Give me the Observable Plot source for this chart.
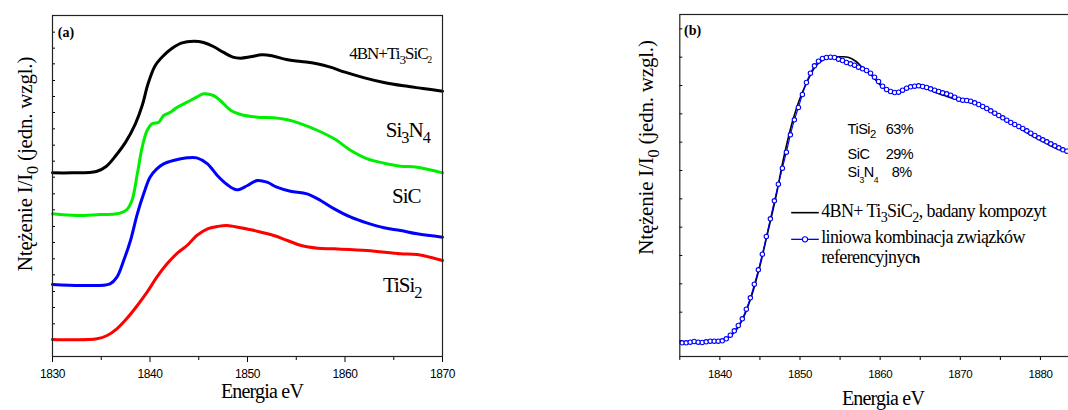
<!DOCTYPE html>
<html><head><meta charset="utf-8">
<script src="https://cdn.jsdelivr.net/npm/d3@7"></script>
<script src="https://cdn.jsdelivr.net/npm/@observablehq/plot@0.6"></script>
<style>
html,body{margin:0;padding:0;background:#fff;overflow:hidden;}
#wrap{position:relative;width:1068px;height:410px;overflow:hidden;background:#fff;}
#a{position:absolute;left:0;top:0;width:460px;height:410px;}
#b{position:absolute;left:600px;top:0;width:500px;height:410px;}
#wrap svg{max-width:none !important;height:410px !important;display:block;}
</style></head><body><div id="wrap"><div id="a"></div><div id="b"></div></div>
<script>
// ---------- Panel (a): reference spectra (energy eV, intensity arb. units) ----------
const compositeA = [[1830,5.51],[1832,5.51],[1834.5,5.55],[1835.5,5.70],[1836.5,6.03],[1837.5,6.43],[1838.5,6.98],[1839.2,7.53],[1839.8,8.18],[1840.5,8.71],[1841.3,9.00],[1842.2,9.23],[1843.2,9.40],[1844.5,9.46],[1845.5,9.42],[1846.5,9.30],[1847.5,9.13],[1848.5,8.98],[1849.3,8.95],[1850.3,8.99],[1851.5,9.05],[1852.5,9.02],[1854,8.91],[1855.5,8.85],[1857,8.79],[1858.5,8.68],[1860,8.53],[1862,8.36],[1864,8.22],[1866,8.12],[1868,8.04],[1870,7.96]];
const si3n4A = [[1830,4.28],[1832.5,4.23],[1834.9,4.26],[1836.6,4.28],[1837.6,4.40],[1838.15,4.68],[1838.7,5.48],[1839.2,6.28],[1839.7,6.78],[1840.2,6.98],[1840.9,7.03],[1841.4,7.23],[1842.1,7.33],[1842.8,7.48],[1843.8,7.63],[1844.8,7.78],[1845.5,7.88],[1846.5,7.83],[1847.2,7.68],[1848.3,7.38],[1849.3,7.26],[1851,7.18],[1852.7,7.16],[1854.1,7.10],[1855.5,6.98],[1857.2,6.78],[1858.9,6.53],[1860.6,6.18],[1862.3,5.93],[1864,5.80],[1865.7,5.71],[1867.4,5.68],[1870,5.51]];
const sicA = [[1830,2.16],[1833.2,2.13],[1835.9,2.18],[1836.6,2.38],[1837.3,2.88],[1838.0,3.48],[1838.7,4.28],[1839.35,4.88],[1840.0,5.38],[1840.7,5.63],[1841.4,5.78],[1842.4,5.88],[1843.8,5.96],[1844.8,5.96],[1845.9,5.78],[1846.9,5.43],[1847.9,5.16],[1848.9,5.00],[1850,5.13],[1851,5.28],[1852,5.23],[1853,5.08],[1854.4,4.96],[1856.1,4.88],[1857.5,4.68],[1858.9,4.43],[1860.6,4.18],[1862.3,4.00],[1864,3.86],[1865.7,3.78],[1867.4,3.68],[1870,3.58]];
const tisi2A = [[1830,0.51],[1832,0.50],[1834.55,0.53],[1835.6,0.63],[1836.6,0.83],[1837.6,1.13],[1838.7,1.53],[1839.7,1.93],[1840.7,2.38],[1841.75,2.78],[1842.8,3.10],[1843.8,3.33],[1844.8,3.63],[1845.9,3.83],[1846.9,3.90],[1847.9,3.93],[1849.3,3.86],[1851,3.76],[1852.7,3.63],[1854.1,3.48],[1855.5,3.33],[1857.2,3.25],[1858.9,3.23],[1862.3,3.18],[1865.7,3.08],[1867.4,3.06],[1870,2.88]];
const xDomainA = [1830, 1870];
const yDomainA = [0, 10.23];
const xMajorA = [1830, 1840, 1850, 1860, 1870];
const xMinorA = [1835, 1845, 1855, 1865];
const yTicksA = [0.50,0.98,1.47,1.95,2.45,2.93,3.42,3.90,4.40,4.88,5.38,5.86,6.34,6.83,7.32,7.80,8.28,8.78,9.25,9.73];
// series labels in panel (a): [x (eV), y, parts]
const labelsA = [
  {x: 1868.9, y: 8.91, size: 17, parts: ["4BN+Ti", ["3","sub"], "SiC", ["2","tiny"]]},
  {x: 1868.75, y: 6.58, size: 21, parts: ["Si", ["3","sub"], "N", ["4","sub"]]},
  {x: 1867.8, y: 4.58, size: 21, parts: ["SiC"]},
  {x: 1867.9, y: 1.91, size: 21, parts: ["TiSi", ["2","sub"]]}
];

// ---------- Panel (b): composite vs linear combination ----------
const compositeB = [[1835,0.42],[1836,0.43],[1837,0.44],[1838,0.44],[1839,0.46],[1840,0.47],[1841,0.56],[1842,0.78],[1843,1.20],[1844,1.85],[1845,2.72],[1846,3.75],[1847,4.80],[1848,6.00],[1849,7.00],[1850,7.75],[1851,8.30],[1852,8.72],[1853,8.92],[1854,8.98],[1855,8.99],[1856,8.98],[1857,8.85],[1858,8.62],[1859,8.42],[1860,8.15],[1861,7.97],[1862,7.93],[1863,8.02],[1864,8.10],[1865,8.11],[1866,8.02],[1867,7.91],[1868,7.83],[1869,7.75],[1870,7.68],[1871,7.64],[1872,7.57],[1873,7.45],[1874,7.31],[1875,7.17],[1876,7.04],[1877,6.91],[1878,6.76],[1879,6.61],[1880,6.49],[1881,6.36],[1882,6.24],[1883,6.16],[1884,6.10]];
const combinationEnergy = [1835.3,1835.8,1836.3,1836.8,1837.3,1837.8,1838.3,1838.8,1839.3,1839.8,1840.3,1840.8,1841.3,1841.8,1842.3,1842.8,1843.3,1843.8,1844.3,1844.8,1845.3,1845.8,1846.3,1846.8,1847.3,1847.8,1848.3,1848.8,1849.3,1849.8,1850.3,1850.8,1851.3,1851.8,1852.3,1852.8,1853.3,1853.8,1854.3,1854.8,1855.3,1855.8,1856.3,1856.8,1857.3,1857.8,1858.3,1858.8,1859.3,1859.8,1860.3,1860.8,1861.3,1861.8,1862.3,1862.8,1863.3,1863.8,1864.3,1864.8,1865.3,1865.8,1866.3,1866.8,1867.3,1867.8,1868.3,1868.8,1869.3,1869.8,1870.3,1870.8,1871.3,1871.8,1872.3,1872.8,1873.3,1873.8,1874.3,1874.8,1875.3,1875.8,1876.3,1876.8,1877.3,1877.8,1878.3,1878.8,1879.3,1879.8,1880.3,1880.8,1881.3,1881.8,1882.3,1882.8,1883.3,1883.8];
const combinationIntensity = [0.41,0.41,0.43,0.45,0.43,0.42,0.44,0.46,0.46,0.46,0.47,0.53,0.64,0.77,0.93,1.13,1.42,1.76,2.17,2.60,3.07,3.60,4.13,4.67,5.17,5.65,6.13,6.65,7.10,7.47,7.86,8.22,8.50,8.72,8.86,8.94,8.97,8.98,8.97,8.92,8.88,8.82,8.78,8.74,8.68,8.63,8.58,8.50,8.38,8.25,8.11,8.01,7.95,7.92,7.93,7.99,8.05,8.09,8.11,8.12,8.10,8.07,8.03,7.99,7.95,7.91,7.88,7.84,7.78,7.72,7.69,7.68,7.66,7.61,7.56,7.50,7.44,7.37,7.30,7.23,7.16,7.09,7.02,6.96,6.90,6.84,6.77,6.70,6.63,6.56,6.50,6.44,6.38,6.32,6.26,6.20,6.16,6.12];
const xDomainB = [1835, 1885];
const yDomainB = [0, 10.26];
const xMajorB = [1840, 1850, 1860, 1870, 1880];
const xMinorB = [1835, 1845, 1855, 1865, 1875, 1885];
const yTicksB = [0.48,1.33,2.18,3.03,3.88,4.73,5.58,6.43,7.28,8.13,8.98,9.83];
const fractionNames = [["TiSi", ["2","sub"]], ["SiC"], ["Si", ["3","lowsub"], "N", ["4","lowsub"]]];
const fractionValues = ["63%", "29%", "8%"];
const fractionPos = {nameX: 1856.0, valueX: [1860.75, 1860.75, 1861.5], y: [6.66, 5.90, 5.37]};
const legendB = {lineX: [1848.96, 1852.41], textX: 1852.7, y: [4.30, 3.50], textY: [4.17, 3.38, 2.78]};

const combination = combinationEnergy.map((e, i) => ({e, v: combinationIntensity[i]}));

const SERIF = "'Liberation Serif', 'Times New Roman', serif";
const SANS = "'Liberation Sans', Arial, sans-serif";

function addText(svg, x, y, parts, o) {
  const t = d3.select(svg).append("text")
    .attr("x", x).attr("y", y)
    .attr("font-family", o.family || SERIF)
    .attr("font-size", o.size)
    .attr("font-weight", o.weight || "normal")
    .attr("text-anchor", o.anchor || "start")
    .attr("letter-spacing", o.ls == null ? 0 : o.ls)
    .attr("fill", "#000");
  if (o.rotate) t.attr("transform", `rotate(${o.rotate},${x},${y})`);
  let shift = 0;
  for (const p of parts) {
    const [s, kind] = typeof p === "string" ? [p, null] : p;
    let target = 0, size = o.size;
    if (kind === "sub") { target = o.size * 0.28; size = o.size * 0.78; }
    if (kind === "tiny") { target = o.size * 0.22; size = o.size * 0.55; }
    if (kind === "lowsub") { target = o.size * 0.42; size = o.size * 0.6; }
    const sp = t.append("tspan").text(s).attr("font-size", size);
    if (target - shift !== 0) sp.attr("dy", target - shift);
    shift = target;
  }
  return t;
}

const baseStyle = {fontFamily: SANS, fontSize: "12px", letterSpacing: "-0.4px", color: "#000", background: "white", overflow: "visible", maxWidth: "none"};

// ---------- build panel (a) ----------
const plotA = Plot.plot({
  width: 460, height: 410,
  marginLeft: 52, marginRight: 18, marginTop: 15, marginBottom: 54,
  x: {domain: xDomainA, label: null},
  y: {domain: yDomainA, label: null},
  style: baseStyle,
  marks: [
    Plot.axisX({ticks: xMajorA, tickSize: 6, tickPadding: 7, tickFormat: d => String(d), label: null, fontSize: 12}),
    Plot.axisX({ticks: xMinorA, tickSize: 4, tickFormat: () => "", label: null}),
    Plot.axisY({ticks: yTicksA, tickSize: 3, dx: 3, tickFormat: () => "", label: null}),
    Plot.line(tisi2A, {x: d => d[0], y: d => d[1], stroke: "#ff0000", strokeWidth: 3, curve: "catmull-rom"}),
    Plot.line(sicA, {x: d => d[0], y: d => d[1], stroke: "#0000ff", strokeWidth: 3, curve: "catmull-rom"}),
    Plot.line(si3n4A, {x: d => d[0], y: d => d[1], stroke: "#00ee00", strokeWidth: 3, curve: "catmull-rom"}),
    Plot.line(compositeA, {x: d => d[0], y: d => d[1], stroke: "#000000", strokeWidth: 3, curve: "catmull-rom"}),
    Plot.frame({stroke: "#222", strokeWidth: 1.2})
  ]
});
document.getElementById("a").appendChild(plotA);
{
  const sx = plotA.scale("x"), sy = plotA.scale("y");
  addText(plotA, sx.apply(1830.6), sy.apply(9.58), ["(a)"], {size: 14, weight: "bold"});
  for (const l of labelsA) addText(plotA, sx.apply(l.x), sy.apply(l.y), l.parts, {size: l.size, anchor: "end", ls: -1});
  addText(plotA, 262, 397.5, ["Energia eV"], {size: 20, anchor: "middle", ls: -0.8});
  addText(plotA, 32, 164, ["Ntężenie I/I", ["0","sub"], " (jedn. wzgl.)"], {size: 21, anchor: "middle", rotate: -90, ls: -0.2});
}

// ---------- build panel (b) ----------
const plotB = Plot.plot({
  width: 500, height: 410,
  marginLeft: 79.3, marginRight: 20, marginTop: 14, marginBottom: 54,
  x: {domain: xDomainB, label: null},
  y: {domain: yDomainB, label: null},
  style: {...baseStyle, fontSize: "11.5px"},
  marks: [
    Plot.axisX({ticks: xMajorB, tickSize: 4, tickPadding: 9, tickFormat: d => String(d), label: null, fontSize: 11.5}),
    Plot.axisX({ticks: xMinorB, tickSize: 4, tickFormat: () => "", label: null}),
    Plot.axisY({ticks: yTicksB, tickSize: 3, dx: 3, tickFormat: () => "", label: null}),
    Plot.line(compositeB, {x: d => d[0], y: d => d[1], stroke: "#000", strokeWidth: 1.6, curve: "catmull-rom"}),
    Plot.line(combination, {x: "e", y: "v", stroke: "#0000ff", strokeWidth: 1.1, curve: "catmull-rom"}),
    Plot.dot(combination, {x: "e", y: "v", r: 2.2, stroke: "#0000ff", fill: "white", strokeWidth: 1.1}),
    Plot.frame({stroke: "#222", strokeWidth: 1.2})
  ]
});
document.getElementById("b").appendChild(plotB);
{
  const sx = plotB.scale("x"), sy = plotB.scale("y");
  const svg = d3.select(plotB);
  addText(plotB, sx.apply(1835.6), sy.apply(9.63), ["(b)"], {size: 14, weight: "bold"});
  fractionNames.forEach((parts, i) => {
    addText(plotB, sx.apply(fractionPos.nameX), sy.apply(fractionPos.y[i]), parts, {size: 14.5, family: SANS, ls: -0.5});
    addText(plotB, sx.apply(fractionPos.valueX[i]), sy.apply(fractionPos.y[i]), [fractionValues[i]], {size: 14.5, family: SANS, ls: -0.5});
  });
  // legend swatches
  svg.append("line").attr("x1", sx.apply(legendB.lineX[0])).attr("x2", sx.apply(legendB.lineX[1]))
    .attr("y1", sy.apply(legendB.y[0])).attr("y2", sy.apply(legendB.y[0])).attr("stroke", "#000").attr("stroke-width", 1.6);
  svg.append("line").attr("x1", sx.apply(legendB.lineX[0])).attr("x2", sx.apply(legendB.lineX[1]))
    .attr("y1", sy.apply(legendB.y[1])).attr("y2", sy.apply(legendB.y[1])).attr("stroke", "#0000ff").attr("stroke-width", 1.3);
  svg.append("circle").attr("cx", (sx.apply(legendB.lineX[0]) + sx.apply(legendB.lineX[1])) / 2).attr("cy", sy.apply(legendB.y[1]))
    .attr("r", 2.6).attr("fill", "white").attr("stroke", "#0000ff").attr("stroke-width", 1.1);
  addText(plotB, sx.apply(legendB.textX), sy.apply(legendB.textY[0]), ["4BN+ Ti", ["3","sub"], "SiC", ["2","sub"], ", badany kompozyt"], {size: 18, ls: -0.6});
  addText(plotB, sx.apply(legendB.textX), sy.apply(legendB.textY[1]), ["liniowa kombinacja związków"], {size: 18, ls: -0.6});
  const r = addText(plotB, sx.apply(legendB.textX), sy.apply(legendB.textY[2]), ["referencyjnyc"], {size: 18, ls: -0.6});
  r.append("tspan").text("h").attr("font-family", SANS).attr("font-weight", "bold").attr("font-size", 13);
  addText(plotB, 283, 404.5, ["Energia eV"], {size: 20, anchor: "middle", ls: -0.8});
  addText(plotB, 53.3, 147.5, ["Ntężenie I/I", ["0","sub"], " (jedn. wzgl.)"], {size: 21, anchor: "middle", rotate: -90, ls: -0.2});
}
</script>
</body></html>
